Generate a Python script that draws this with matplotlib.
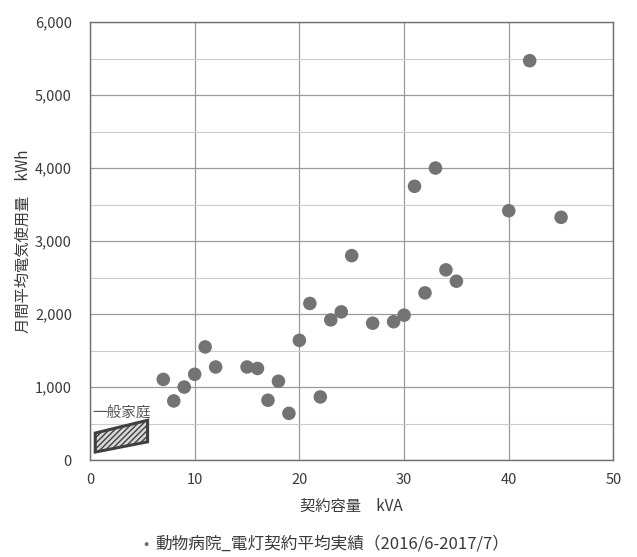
import matplotlib
matplotlib.use('Agg')
import matplotlib.pyplot as plt
from matplotlib.patches import Polygon
from matplotlib.ticker import MultipleLocator, FuncFormatter

plt.rcParams['font.family'] = ['Noto Sans CJK JP', 'DejaVu Sans']

# 動物病院 電灯契約 平均実績
contract_kva = [7, 8, 9, 10, 11, 12, 15, 16, 17, 18, 19, 20, 21, 22, 23, 24, 25,
                27, 29, 30, 31, 32, 33, 34, 35, 40, 42, 45]
usage_kwh = [1105, 810, 1000, 1175, 1550, 1275, 1275, 1255, 820, 1080, 640, 1640,
             2145, 865, 1920, 2030, 2800, 1875, 1895, 1985, 3750, 2290, 4000, 2605,
             2450, 3415, 5470, 3325]

# 一般家庭の範囲
household_kva = [0.5, 0.5, 5.5, 5.5]
household_kwh = [110, 370, 545, 250]

fig = plt.figure(figsize=(6.37, 5.57), dpi=100)
ax = fig.add_axes([0.1413, 0.174, 0.8217, 0.7865])

ax.scatter(contract_kva, usage_kwh, s=95, color='#737373', edgecolors='none',
           zorder=3, label='動物病院_電灯契約平均実績（2016/6-2017/7）')

poly = Polygon(list(zip(household_kva, household_kwh)), closed=True,
               facecolor='#d8d8d8', edgecolor='#404040', linewidth=2.2,
               hatch='//////', zorder=4)
ax.add_patch(poly)
ax.text(3.0, 650, '一般家庭', ha='center', va='center', fontsize=10.5,
        color='#555555', zorder=5)

ax.set_xlim(0, 50)
ax.set_ylim(0, 6000)
ax.xaxis.set_major_locator(MultipleLocator(10))
ax.yaxis.set_major_locator(MultipleLocator(1000))
ax.yaxis.set_minor_locator(MultipleLocator(500))
ax.yaxis.set_major_formatter(FuncFormatter(lambda v, p: f'{int(v):,}'))

ax.grid(which='major', color='#9a9a9a', linewidth=0.9, zorder=0)
ax.grid(which='minor', axis='y', color='#cccccc', linewidth=0.8, zorder=0)
ax.set_axisbelow(True)
for sp in ax.spines.values():
    sp.set_color('#707070')
    sp.set_linewidth(1.0)

ax.tick_params(which='both', length=0, labelsize=10.5, colors='#3a3a3a')
ax.tick_params(axis='y', pad=13)
ax.tick_params(axis='x', pad=9)

ax.set_xlabel('契約容量　kVA', fontsize=11, color='#3a3a3a', labelpad=8)
ax.set_ylabel('月間平均電気使用量　kWh', fontsize=11, color='#3a3a3a', labelpad=2)

fig.legend(loc='center', bbox_to_anchor=(0.508, 1 - 544 / 557), frameon=False,
           fontsize=12, markerscale=0.3, handletextpad=0.0, handlelength=1.0,
           labelcolor='#3a3a3a')

fig.savefig('out.png', dpi=100)
